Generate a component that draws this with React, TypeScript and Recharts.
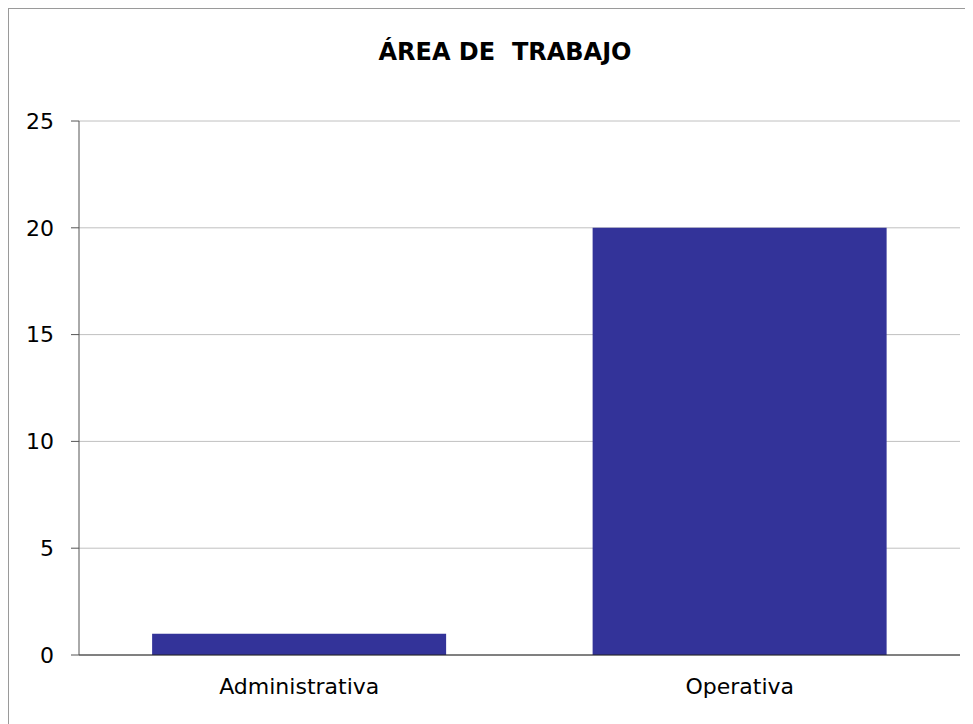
import { BarChart, Bar, XAxis, YAxis, CartesianGrid } from 'recharts'

const categories = ['Administrativa', 'Operativa']
const counts = [1, 20]
const yTicks = [0, 5, 10, 15, 20, 25]
const boundaryTicks = [0, 1, 2]

const data = categories.map((name, i) => ({ name, value: counts[i] }))

const font = '"DejaVu Sans", Verdana, sans-serif'

export default function App() {
  return (
    <div
      style={{
        position: 'relative',
        width: 965,
        height: 716,
        borderTop: '1px solid #9a9a9a',
        borderLeft: '1px solid #9a9a9a',
        background: '#fff',
        overflow: 'hidden',
        fontFamily: font,
      }}
    >
      <div
        style={{
          position: 'absolute',
          top: 29,
          left: 496,
          transform: 'translateX(-50%)',
          fontWeight: 'bold',
          fontSize: 24,
          color: '#000',
          whiteSpace: 'pre',
        }}
      >
        {'ÁREA DE  TRABAJO'}
      </div>
      <BarChart
        width={964}
        height={715}
        data={data}
        margin={{ top: 112, right: 13, bottom: 0, left: 0 }}
        barCategoryGap="16.6%"
      >
        <CartesianGrid vertical={false} stroke="#c0c0c0" />
        {/* tick marks between the categories */}
        <XAxis
          xAxisId="bounds"
          type="number"
          domain={[0, 2]}
          ticks={boundaryTicks}
          height={0}
          axisLine={false}
          tickLine={{ stroke: '#666' }}
          tickSize={8}
          tick={false}
        />
        <XAxis
          xAxisId="cat"
          dataKey="name"
          axisLine={{ stroke: '#222' }}
          tickLine={false}
          height={69}
          tickSize={6}
          tickMargin={17}
          tick={{ fill: '#000', fontSize: 22, fontFamily: font }}
        />
        <YAxis
          type="number"
          domain={[0, 25]}
          ticks={yTicks}
          width={70}
          axisLine={{ stroke: '#555' }}
          tickLine={{ stroke: '#555' }}
          tickSize={8}
          tickMargin={17}
          tick={{ fill: '#000', fontSize: 22, fontFamily: font }}
        />
        <Bar dataKey="value" xAxisId="cat" fill="#333399" isAnimationActive={false} />
      </BarChart>
    </div>
  )
}
